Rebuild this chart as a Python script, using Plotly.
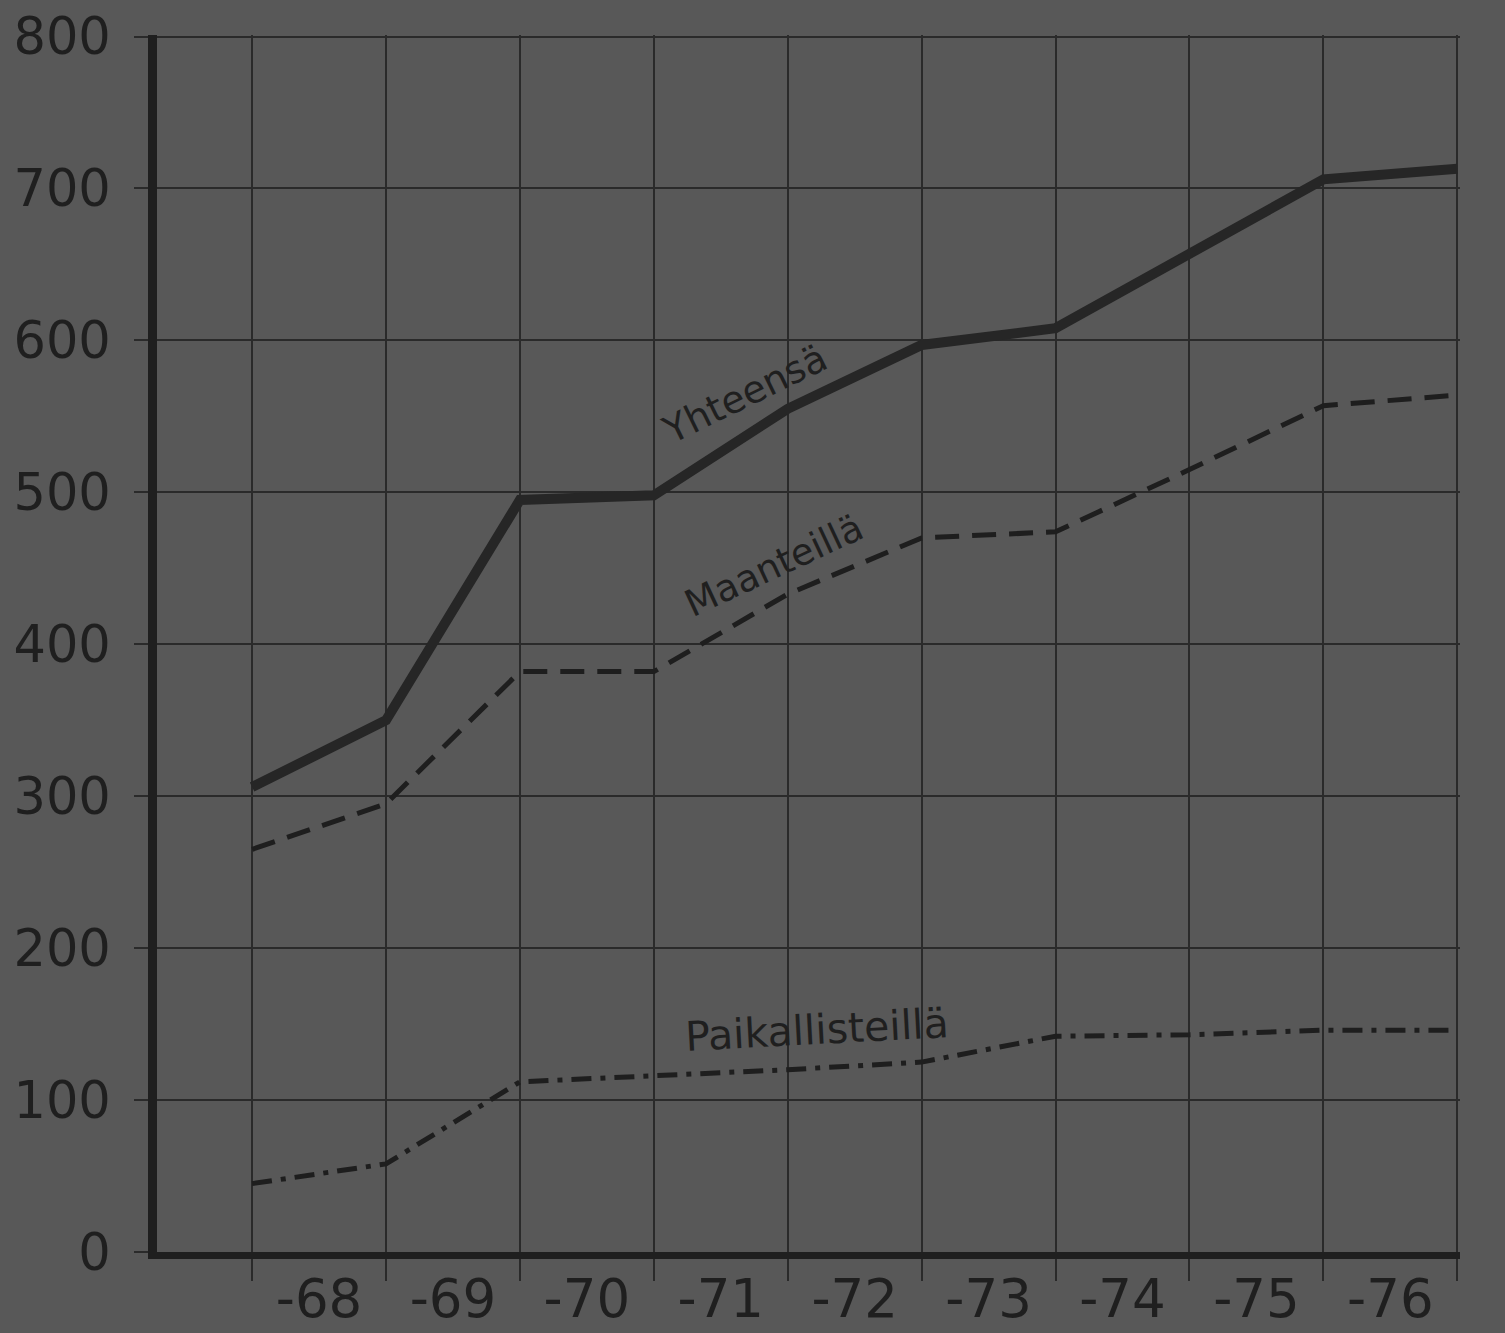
import plotly.graph_objects as go

# Data (values at year boundaries)
x_pos = [0, 1, 2, 3, 4, 5, 6, 7, 8, 9]
yhteensa = [306, 350, 495, 498, 555, 597, 608, 657, 706, 713]
maanteilla = [265, 295, 382, 382, 433, 470, 474, 515, 557, 564]
paikallisteilla = [45, 58, 112, 116, 120, 125, 142, 143, 146, 146]

year_labels = ["-68", "-69", "-70", "-71", "-72", "-73", "-74", "-75", "-76"]
label_pos = [0.5, 1.5, 2.5, 3.5, 4.5, 5.5, 6.5, 7.5, 8.5]
y_ticks = [0, 100, 200, 300, 400, 500, 600, 700, 800]

BG = "#585858"
INK = "#1f1f1f"
GRID = "#2a2a2a"
FONT = "DejaVu Sans"

fig = go.Figure()
fig.add_trace(go.Scatter(x=x_pos, y=yhteensa, mode="lines",
                         line=dict(color="#262626", width=10), name="Yhteensä"))
fig.add_trace(go.Scatter(x=x_pos, y=maanteilla, mode="lines",
                         line=dict(color="#1e1e1e", width=5, dash="24px,13px"),
                         name="Maanteillä"))
fig.add_trace(go.Scatter(x=x_pos, y=paikallisteilla, mode="lines",
                         line=dict(color="#1e1e1e", width=5, dash="20px,9px,5px,9px"),
                         name="Paikallisteillä"))

fig.add_annotation(x=3.68, y=565, xref="x", yref="y", text="Yhteensä",
                   textangle=-26, showarrow=False,
                   font=dict(family=FONT, size=38, color=INK))
fig.add_annotation(x=3.9, y=452, xref="x", yref="y", text="Maanteillä",
                   textangle=-25, showarrow=False,
                   font=dict(family=FONT, size=37, color=INK))
fig.add_annotation(x=4.22, y=146, xref="x", yref="y", text="Paikallisteillä",
                   textangle=-3, showarrow=False,
                   font=dict(family=FONT, size=41, color=INK))

fig.update_layout(
    width=1505, height=1333,
    margin=dict(l=157, r=45, t=35, b=81),
    paper_bgcolor=BG, plot_bgcolor=BG,
    showlegend=False,
    font=dict(family=FONT, color=INK),
)
fig.update_xaxes(
    range=[-0.71, 9.02], automargin=False,
    tickmode="array", tickvals=label_pos, ticktext=year_labels,
    ticks="", showgrid=False, zeroline=False,
    tickfont=dict(family=FONT, size=53, color=INK),
    ticklabelstandoff=-6,
    showline=True, linewidth=7, linecolor=INK,
    minor=dict(tick0=0, dtick=1, showgrid=True, gridcolor=GRID, gridwidth=2,
               ticks="outside", ticklen=22, tickwidth=2, tickcolor=GRID),
)
fig.update_yaxes(
    range=[0, 801], automargin=False,
    tickmode="array", tickvals=y_ticks,
    showgrid=True, gridcolor=GRID, gridwidth=2, zeroline=False,
    ticks="outside", ticklen=14, tickwidth=2, tickcolor=GRID,
    tickfont=dict(family=FONT, size=51, color=INK),
    ticklabelstandoff=13,
    showline=True, linewidth=9, linecolor=INK,
)

fig.write_html(
    "out.html",
    config={"displayModeBar": False},
    post_script="document.body.style.margin='0';document.body.style.background='#585858';",
)
